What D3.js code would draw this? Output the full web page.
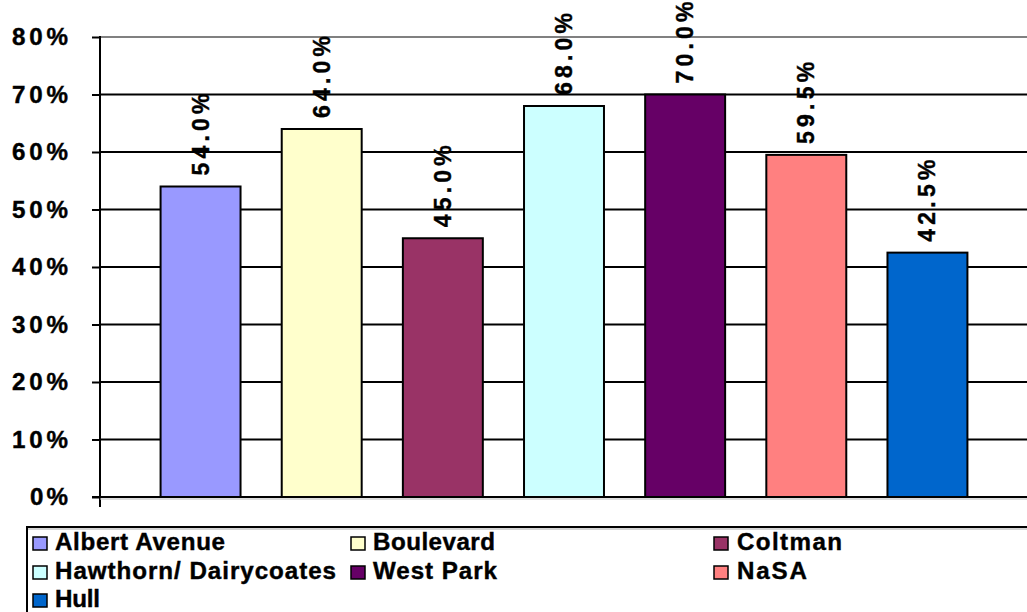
<!DOCTYPE html>
<html>
<head>
<meta charset="utf-8">
<script src="https://cdn.jsdelivr.net/npm/d3@7"></script>
<style>
  html, body { margin: 0; padding: 0; background: #fff; }
  svg { display: block; }
  text { font-family: "Liberation Sans", Arial, sans-serif; font-weight: bold; fill: #000; stroke: #000; stroke-width: 0.4px; }
</style>
</head>
<body>
<svg id="chart" width="1027" height="612"></svg>
<script>
// Share of respondents by area
const areas = ["Albert Avenue", "Boulevard", "Coltman", "Hawthorn/ Dairycoates", "West Park", "NaSA", "Hull"];
const values = [54.0, 64.0, 45.0, 68.0, 70.0, 59.5, 42.5];
const colors = ["#9999FF", "#FFFFCC", "#993366", "#CCFFFF", "#660066", "#FF8080", "#0066CC"];
const yTicks = [0, 10, 20, 30, 40, 50, 60, 70, 80];
const yTickLabels = ["0%", "10%", "20%", "30%", "40%", "50%", "60%", "70%", "80%"];

const svg = d3.select("#chart");
const plotLeft = 100, plotRight = 1028, plotTop = 37, plotBottom = 497;

const y = d3.scaleLinear().domain([0, 80]).range([plotBottom, plotTop]);
const x = d3.scaleBand().domain(areas).range([plotLeft, plotRight]).paddingInner(0.34).paddingOuter(0.5);

const fontSize = 23;
const stretch = 1.05;

// horizontal gridlines
svg.append("g").selectAll("line").data(yTicks).join("line")
  .attr("x1", plotLeft).attr("x2", 1027)
  .attr("y1", d => y(d)).attr("y2", d => y(d))
  .attr("stroke", d => d === 80 ? "#808080" : "#000")
  .attr("stroke-width", 2);

// y axis with outward ticks
const yAxis = d3.axisLeft(y).tickValues(yTicks).tickSize(8).tickFormat("");
const gy = svg.append("g").attr("transform", `translate(${plotLeft},0)`).call(yAxis);
gy.select(".domain").remove();
gy.selectAll(".tick line").attr("stroke", "#000").attr("stroke-width", 2);

// y tick labels
svg.append("g").selectAll("text").data(yTicks).join("text")
  .attr("transform", d => `translate(68,${y(d) + 8}) scale(${stretch},1)`)
  .attr("text-anchor", "end")
  .attr("font-size", fontSize)
  .attr("textLength", (d, i) => (yTickLabels[i].length === 2 ? 38 : 56) / stretch)
  .attr("lengthAdjust", "spacing")
  .text((d, i) => yTickLabels[i]);

// bars
svg.append("g").selectAll("rect").data(values).join("rect")
  .attr("x", (d, i) => x(areas[i]))
  .attr("width", x.bandwidth())
  .attr("y", d => y(d))
  .attr("height", d => y(0) - y(d))
  .attr("fill", (d, i) => colors[i])
  .attr("stroke", "#000")
  .attr("stroke-width", 2);

// value axis line and category axis line
svg.append("line").attr("x1", plotLeft).attr("x2", plotLeft).attr("y1", plotTop - 1).attr("y2", plotBottom + 10)
  .attr("stroke", "#000").attr("stroke-width", 2);
svg.append("line").attr("x1", plotLeft).attr("x2", 1027).attr("y1", plotBottom + 2).attr("y2", plotBottom + 2)
  .attr("stroke", "#bbb").attr("stroke-width", 1);
svg.append("line").attr("x1", plotLeft - 8).attr("x2", 1027).attr("y1", plotBottom).attr("y2", plotBottom)
  .attr("stroke", "#000").attr("stroke-width", 2);

// value labels, rotated
svg.append("g").selectAll("text").data(values).join("text")
  .attr("transform", (d, i) => `translate(${x(areas[i]) + x.bandwidth() / 2 + 8},${y(d) - 11}) scale(${stretch},1) rotate(-90)`)
  .attr("text-anchor", "start")
  .attr("font-size", fontSize)
  .attr("textLength", 82)
  .attr("lengthAdjust", "spacing")
  .text(d => d.toFixed(1) + "%");

// legend
const legend = svg.append("g");
legend.append("line").attr("x1", 26).attr("x2", 1027).attr("y1", 529).attr("y2", 529).attr("stroke", "#aaa").attr("stroke-width", 1);
legend.append("line").attr("x1", 26).attr("x2", 1027).attr("y1", 527).attr("y2", 527).attr("stroke", "#000").attr("stroke-width", 2);
legend.append("line").attr("x1", 27).attr("x2", 27).attr("y1", 526).attr("y2", 612).attr("stroke", "#000").attr("stroke-width", 2);

const colX = [33, 351, 714];
const textX = [55, 373, 737];
const rowY = [550, 579, 607];
const legendWidths = [170, 122, 105, 281, 124, 70, 45];

const items = legend.selectAll("g.item").data(areas).join("g").attr("class", "item");
items.append("rect")
  .attr("x", (d, i) => colX[i % 3])
  .attr("y", (d, i) => rowY[Math.floor(i / 3)] - 13)
  .attr("width", 14).attr("height", 13)
  .attr("fill", (d, i) => colors[i])
  .attr("stroke", "#000").attr("stroke-width", 1.5);
items.append("text")
  .attr("transform", (d, i) => `translate(${textX[i % 3]},${rowY[Math.floor(i / 3)]}) scale(${stretch},1)`)
  .attr("font-size", fontSize)
  .attr("textLength", (d, i) => legendWidths[i] / stretch)
  .attr("lengthAdjust", "spacing")
  .text(d => d);
</script>
</body>
</html>
